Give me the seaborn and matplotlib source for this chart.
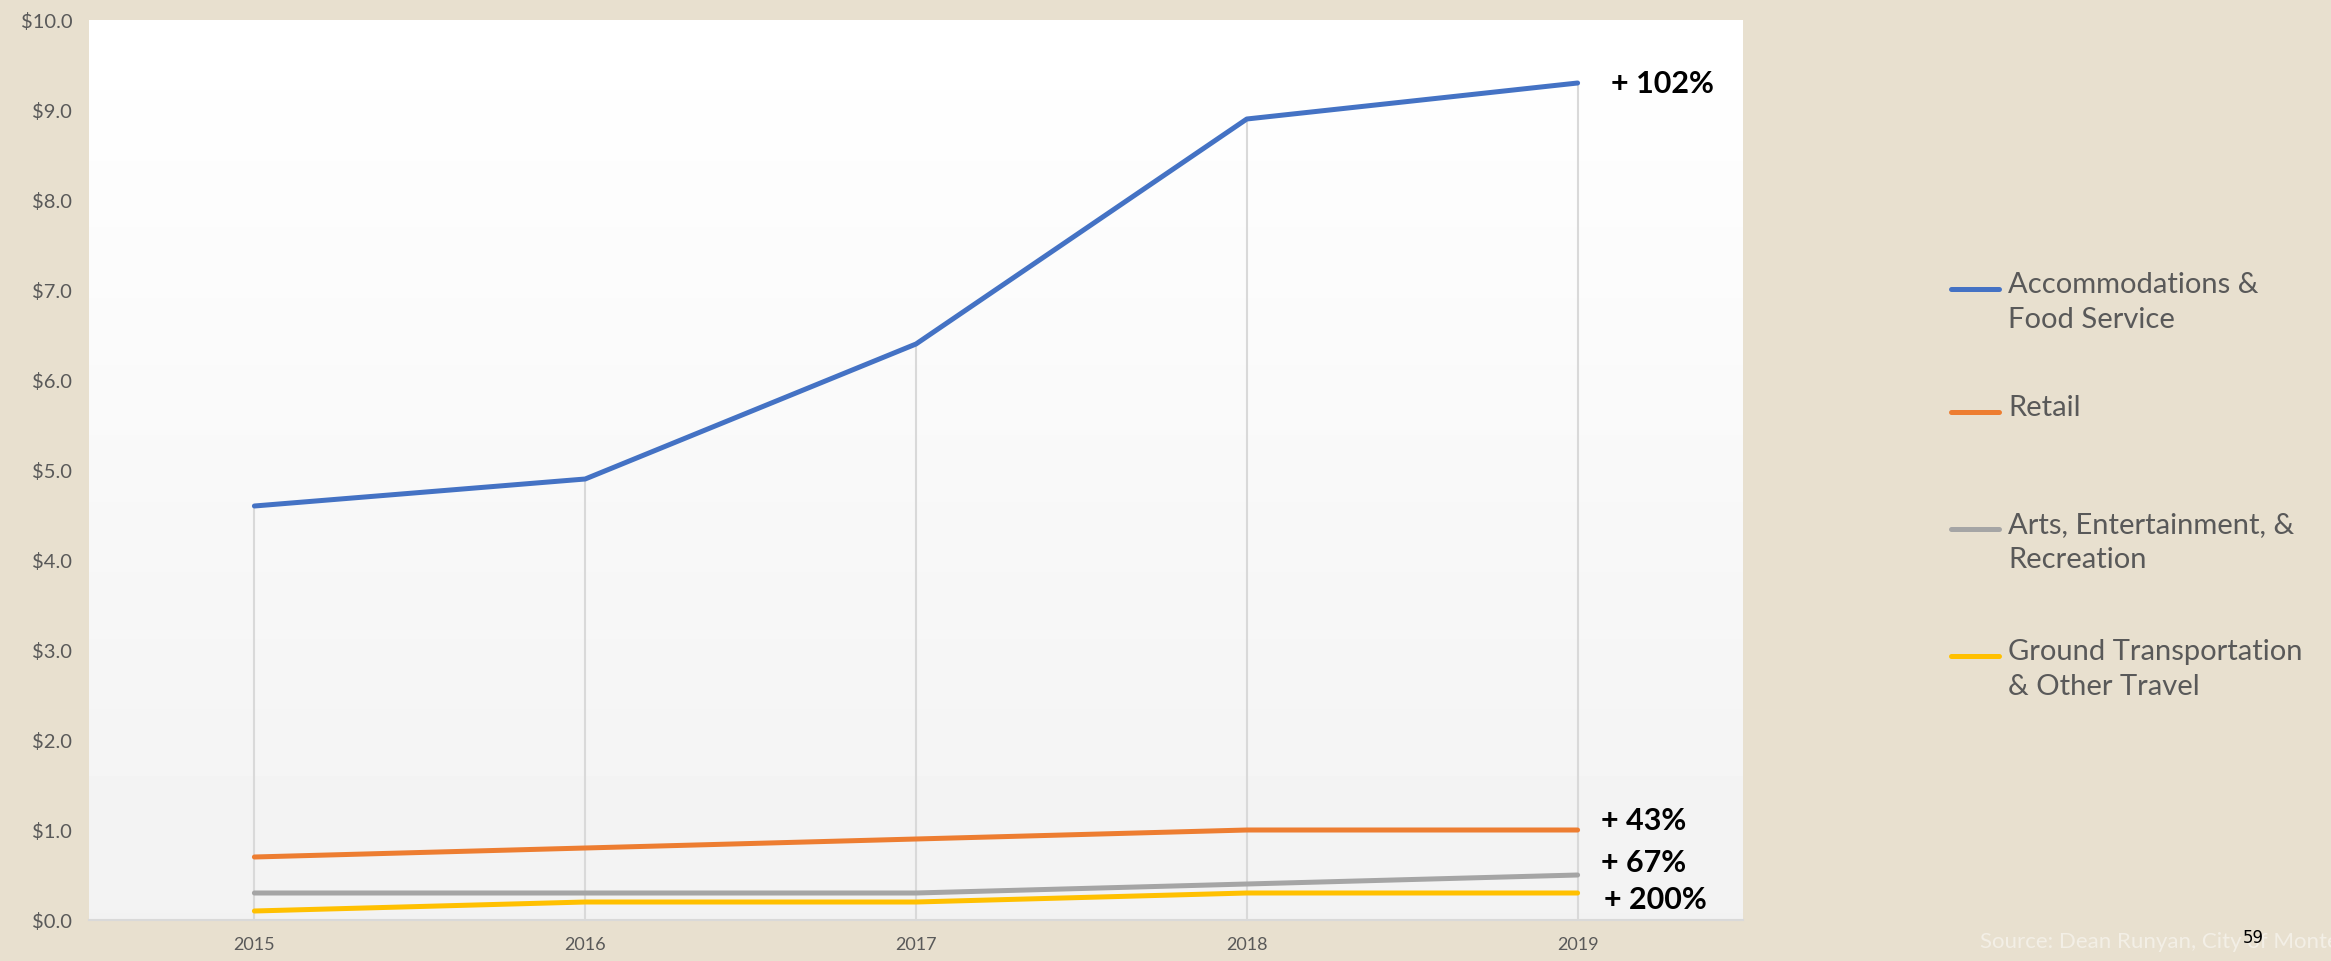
import matplotlib.pyplot as plt
from matplotlib.lines import Line2D
import numpy as np
import pandas as pd
import seaborn as sns

years = [2015, 2016, 2017, 2018, 2019]
accommodations = [4.6, 4.9, 6.4, 8.9, 9.3]
retail = [0.7, 0.8, 0.9, 1.0, 1.0]
arts = [0.3, 0.3, 0.3, 0.4, 0.5]
ground = [0.1, 0.2, 0.2, 0.3, 0.3]

series_names = ["Accommodations & Food Service", "Retail",
                "Arts, Entertainment, & Recreation",
                "Ground Transportation & Other Travel"]
legend_labels = ["Accommodations &\nFood Service", "Retail",
                 "Arts, Entertainment, &\nRecreation",
                 "Ground Transportation\n& Other Travel"]
growth_labels = ["+ 102%", "+ 43%", "+ 67%", "+ 200%"]
yticks = [0, 1, 2, 3, 4, 5, 6, 7, 8, 9, 10]

colors = ['#4472C4', '#ED7D31', '#A5A5A5', '#FFC000']
bg = '#E8E0CF'
tick_grey = '#595959'

df = pd.DataFrame({
    "Year": years * 4,
    "Value": accommodations + retail + arts + ground,
    "Series": [s for s in series_names for _ in years],
})

sns.set_style("white")
plt.rcParams['font.family'] = ['Lato', 'DejaVu Sans']

fig = plt.figure(figsize=(23.31, 9.61), dpi=100, facecolor=bg)
ax = fig.add_axes([89 / 2331, 1 - 920 / 961, (1743 - 89) / 2331, (920 - 20) / 961])

# white-to-light-grey gradient plot area
grad = np.linspace(1.0, 0.949, 256).reshape(-1, 1)
ax.imshow(grad, extent=[2014.5, 2019.5, 0, 10], aspect='auto', cmap='gray',
          vmin=0, vmax=1, origin='upper', zorder=0)

# drop lines
ax.vlines(years, 0, accommodations, color='#D9D9D9', lw=1.5, zorder=1)

sns.lineplot(data=df, x="Year", y="Value", hue="Series", hue_order=series_names,
             palette=colors, linewidth=3.6, legend=False, ax=ax, zorder=3)

ax.set_xlim(2014.5, 2019.5)
ax.set_ylim(0, 10)
ax.set_xticks(years)
ax.set_xticklabels([str(y) for y in years])
ax.set_yticks(yticks)
ax.set_yticklabels([f"${v:.1f}" for v in yticks])
ax.set_xlabel("")
ax.set_ylabel("")
ax.tick_params(axis='both', length=0, colors=tick_grey)
ax.tick_params(axis='y', labelsize=14.5, pad=12)
ax.tick_params(axis='x', labelsize=13, pad=12)
for side in ['top', 'right', 'left']:
    ax.spines[side].set_visible(False)
ax.spines['bottom'].set_color('#D9D9D9')
ax.spines['bottom'].set_linewidth(1.5)

# growth annotations
for lab, y, x in zip(growth_labels, [9.29, 1.1, 0.63, 0.22], [2019.1, 2019.07, 2019.07, 2019.08]):
    ax.text(x, y, lab, fontsize=22, fontweight='bold', color='black',
            ha='left', va='center', zorder=4)

# legend drawn by hand
entry_y = [289, 412, 529, 656]
for lab, c, yy in zip(legend_labels, colors, entry_y):
    fy = 1 - yy / 961
    fig.add_artist(Line2D([1951 / 2331, 1999 / 2331], [fy, fy], color=c, lw=3.6))
    fig.text(2008 / 2331, fy + 0.0175, lab, fontsize=21, color=tick_grey,
             ha='left', va='top', linespacing=1.4)

fig.text(1980 / 2331, 1 - 942 / 961, "Source: Dean Runyan, City of Monterey",
         fontsize=16, color='#F3EFE6', ha='left', va='center')
fig.text(2243 / 2331, 1 - 938 / 961, "59", fontsize=12, color='black',
         family='DejaVu Sans', ha='left', va='center')

fig.savefig("out.png", dpi=100, facecolor=bg)
